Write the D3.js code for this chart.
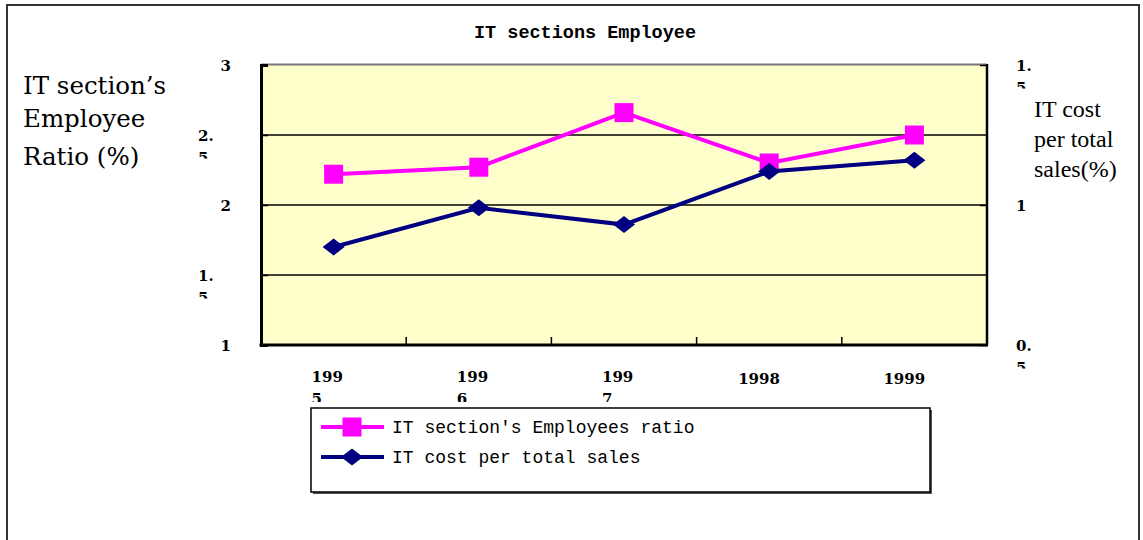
<!DOCTYPE html>
<html><head><meta charset="utf-8">
<script src="https://cdn.jsdelivr.net/npm/d3@7"></script>
<style>body{margin:0;background:#fff}</style>
</head><body>
<svg id="chart" width="1143" height="540"></svg>
<script>
// ---- data ----
const categories = ["1995", "1996", "1997", "1998", "1999"];
const employeeRatio = [2.22, 2.27, 2.66, 2.30, 2.50];   // left axis (%)
const itCostRatio = [0.85, 0.99, 0.93, 1.12, 1.16];     // right axis (%)
const leftTicks = [1, 1.5, 2, 2.5, 3];
const rightTicks = [0.5, 1, 1.5];
const seriesNames = ["IT section's Employees ratio", "IT cost per total sales"];
const chartTitle = "IT sections Employee";
const leftTitle = ["IT section\u2019s", "Employee", "Ratio (%)"];
const rightTitle = ["IT cost", "per total", "sales(%)"];
const xLabelBreak = [3, 3, 3, 0, 0]; // characters before the label wraps (0 = no wrap)

// ---- layout ----
const svg = d3.select("#chart");
const defs = svg.append("defs");
const P = {left: 261, right: 987, top: 65, bottom: 345};
const x = d3.scaleBand().domain(categories).range([P.left, P.right]);
const yL = d3.scaleLinear().domain([1, 3]).range([P.bottom, P.top]);
const yR = d3.scaleLinear().domain([0.5, 1.5]).range([P.bottom, P.top]);
const cx = c => x(c) + x.bandwidth() / 2;
const PINK = "#FF00FF", NAVY = "#000080";
let clipId = 0;
function clip(sel, xx, yy, w, h) {
  const id = "c" + (clipId++);
  defs.append("clipPath").attr("id", id).append("rect")
    .attr("x", xx).attr("y", yy).attr("width", w).attr("height", h);
  sel.attr("clip-path", `url(#${id})`);
}

// outer frame
svg.append("rect").attr("x", 7).attr("y", 5).attr("width", 1132).attr("height", 600)
  .attr("fill", "none").attr("stroke", "#333").attr("stroke-width", 2);

// title
svg.append("text").attr("x", 585).attr("y", 38).attr("text-anchor", "middle")
  .attr("font-family", "Liberation Mono").attr("font-weight", "bold").attr("font-size", 18.5)
  .text(chartTitle);

// plot area
svg.append("rect").attr("x", P.left).attr("y", P.top).attr("width", P.right - P.left)
  .attr("height", P.bottom - P.top).attr("fill", "#FFFFCC");

// gridlines
svg.append("g").selectAll("line").data(leftTicks.filter(t => t > 1 && t < 3)).join("line")
  .attr("x1", P.left).attr("x2", P.right).attr("y1", d => yL(d)).attr("y2", d => yL(d))
  .attr("stroke", "#000").attr("stroke-width", 1.5);

// frame of plot
svg.append("line").attr("x1", P.left).attr("x2", P.right).attr("y1", P.top - 0.5).attr("y2", P.top - 0.5)
  .attr("stroke", "#777").attr("stroke-width", 2);
svg.append("line").attr("x1", P.right).attr("x2", P.right).attr("y1", P.top - 1).attr("y2", P.bottom)
  .attr("stroke", "#000").attr("stroke-width", 2.5);

// left axis
const gL = svg.append("g").attr("transform", `translate(${P.left},0)`)
  .call(d3.axisLeft(yL).tickValues(leftTicks).tickSize(-7).tickFormat(d => String(d)));
gL.select(".domain").attr("stroke", "#000").attr("stroke-width", 3);
gL.selectAll(".tick line").attr("stroke", "#000").attr("stroke-width", 1.5);
gL.selectAll(".tick text").each(function(d) {
  const s = String(d), t = d3.select(this);
  t.text(null).attr("font-family", "DejaVu Serif").attr("font-weight", "bold")
    .attr("font-size", 15).attr("fill", "#000").attr("dy", null).attr("y", 5);
  if (s.length > 2) {
    t.attr("text-anchor", "start").attr("x", -63);
    t.append("tspan").attr("x", -63).attr("y", 5).text(s.slice(0, 2));
    t.append("tspan").attr("x", -63).attr("y", 27).text(s.slice(2));
    clip(t, -70, -23, 60, 46);
  } else {
    t.attr("text-anchor", "end").attr("x", -30).text(s);
  }
});

// right axis
const gR = svg.append("g").attr("transform", `translate(${P.right},0)`)
  .call(d3.axisRight(yR).tickValues(rightTicks).tickSize(-7).tickFormat(d => String(d)));
gR.select(".domain").remove();
gR.selectAll(".tick line").attr("stroke", "#000").attr("stroke-width", 1.5);
gR.selectAll(".tick text").each(function(d) {
  const s = String(d), t = d3.select(this);
  t.text(null).attr("font-family", "DejaVu Serif").attr("font-weight", "bold")
    .attr("font-size", 15).attr("fill", "#000").attr("dy", null)
    .attr("text-anchor", "start").attr("x", 29).attr("y", 5);
  if (s.length > 2) {
    t.append("tspan").attr("x", 29).attr("y", 5).text(s.slice(0, 2));
    t.append("tspan").attr("x", 29).attr("y", 27).text(s.slice(2));
    clip(t, 20, -23, 60, 46);
  } else {
    t.text(s);
  }
});

// bottom axis line and ticks (at category boundaries)
svg.append("line").attr("x1", P.left - 1.5).attr("x2", P.right + 1).attr("y1", P.bottom).attr("y2", P.bottom)
  .attr("stroke", "#000").attr("stroke-width", 3);
svg.append("g").selectAll("line").data(categories.slice(1)).join("line")
  .attr("x1", d => x(d)).attr("x2", d => x(d)).attr("y1", P.bottom).attr("y2", P.bottom - 8)
  .attr("stroke", "#000").attr("stroke-width", 1.5);

// x labels
const xl = svg.append("g").attr("font-family", "DejaVu Serif").attr("font-weight", "bold").attr("font-size", 15);
categories.forEach((c, i) => {
  const n = xLabelBreak[i];
  const t = xl.append("text");
  if (n > 0) {
    t.append("tspan").attr("x", cx(c) - 22).attr("y", 382).text(c.slice(0, n));
    t.append("tspan").attr("x", cx(c) - 22).attr("y", 404).text(c.slice(n));
    clip(t, cx(c) - 30, 360, 60, 42);
  } else {
    t.attr("x", cx(c) - 31).attr("y", 384).text(c);
  }
});

// axis titles
svg.append("text").attr("font-family", "DejaVu Serif").attr("font-size", 24.5)
  .selectAll("tspan").data(leftTitle).join("tspan")
  .attr("x", 23).attr("y", (d, i) => [94, 127, 165][i]).text(d => d);
svg.append("text").attr("font-family", "Liberation Serif").attr("font-size", 24)
  .selectAll("tspan").data(rightTitle).join("tspan")
  .attr("x", 1034).attr("y", (d, i) => 117 + i * 30).text(d => d);

// series
const square = d3.symbol().type(d3.symbolSquare).size(19 * 19);
const diamond = "M0,-8.5L11,0L0,8.5L-11,0Z";
const lineL = d3.line().x((d, i) => cx(categories[i])).y(d => yL(d));
const lineR = d3.line().x((d, i) => cx(categories[i])).y(d => yR(d));
svg.append("path").datum(employeeRatio).attr("d", lineL).attr("fill", "none")
  .attr("stroke", PINK).attr("stroke-width", 4);
svg.append("g").selectAll("path").data(employeeRatio).join("path")
  .attr("transform", (d, i) => `translate(${cx(categories[i])},${yL(d)})`)
  .attr("d", square).attr("fill", PINK);
svg.append("path").datum(itCostRatio).attr("d", lineR).attr("fill", "none")
  .attr("stroke", NAVY).attr("stroke-width", 4);
svg.append("g").selectAll("path").data(itCostRatio).join("path")
  .attr("transform", (d, i) => `translate(${cx(categories[i])},${yR(d)})`)
  .attr("d", diamond).attr("fill", NAVY);

// legend
const L = {x: 311, y: 408, w: 619, h: 84};
svg.append("rect").attr("x", L.x + 2).attr("y", L.y + 2).attr("width", L.w).attr("height", L.h).attr("fill", "#555");
svg.append("rect").attr("x", L.x).attr("y", L.y).attr("width", L.w).attr("height", L.h)
  .attr("fill", "#fff").attr("stroke", "#000").attr("stroke-width", 1.5);
const colors = [PINK, NAVY];
const lg = svg.append("g").selectAll("g").data(seriesNames).join("g")
  .attr("transform", (d, i) => `translate(0,${427 + i * 30})`);
lg.append("line").attr("x1", 321).attr("x2", 384).attr("stroke", (d, i) => colors[i]).attr("stroke-width", 4);
lg.append("path").attr("transform", "translate(352,0)")
  .attr("d", (d, i) => i === 0 ? square() : diamond).attr("fill", (d, i) => colors[i]);
lg.append("text").attr("x", 392).attr("y", 6).attr("font-family", "Liberation Mono")
  .attr("font-size", 18).attr("fill", "#000").text(d => d);
</script>
</body></html>
